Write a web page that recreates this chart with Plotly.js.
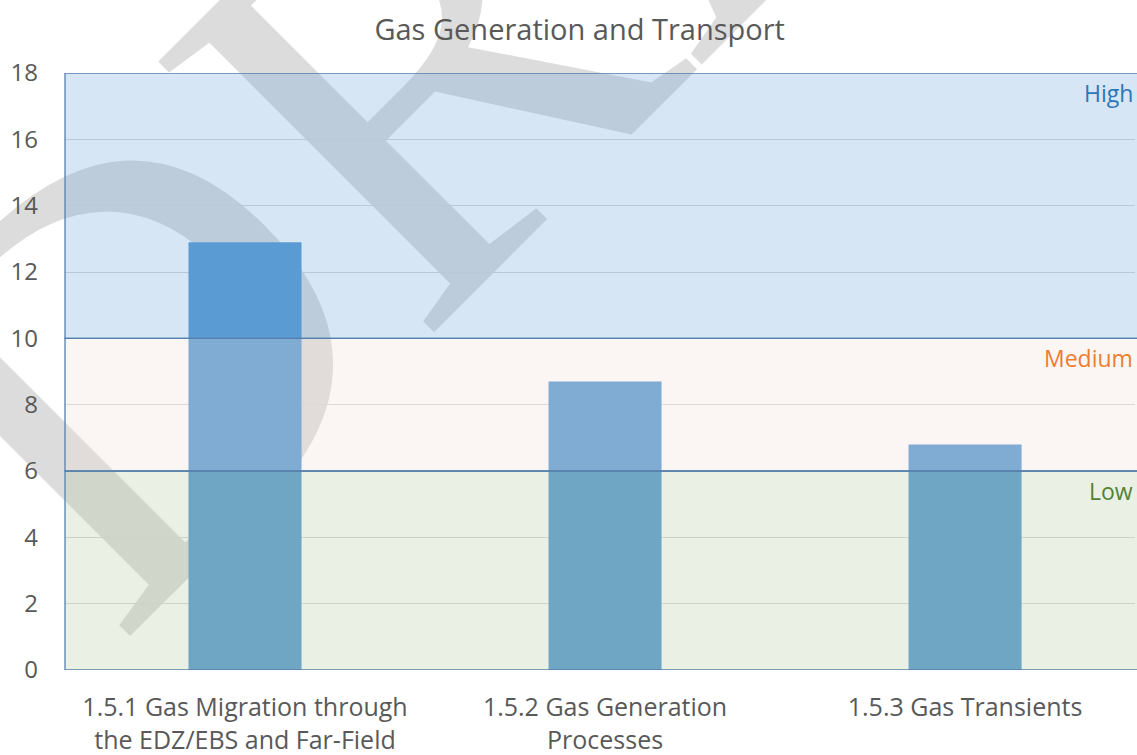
<!DOCTYPE html>
<html>
<head>
<meta charset="utf-8">
<script src="https://cdn.plot.ly/plotly-3.0.1.min.js"></script>
<style>
  html, body { margin: 0; padding: 0; background: #ffffff; }
  #chart { width: 1137px; height: 755px; }
</style>
</head>
<body>
<div id="chart"></div>
<script>
// ---- data ----
const categories = [
  '1.5.1 Gas Migration through<br>the EDZ/EBS and Far-Field',
  '1.5.2 Gas Generation<br>Processes',
  '1.5.3 Gas Transients'
];
const scores = [12.9, 8.7, 6.8];

const bandNames = ['Low', 'Medium', 'High'];
const bandLower = [0, 6, 10];
const bandUpper = [6, 10, 18];

const yTickValues = [0, 2, 4, 6, 8, 10, 12, 14, 16, 18];
const chartTitle = 'Gas Generation and Transport';
const watermarkText = 'DRAFT';

// ---- styles ----
const textGrey = '#595959';
const baseFont = 'Open Sans, Noto Sans, sans-serif';
const barColor = '#5b9bd5';
const bandFill = ['rgba(171,199,147,0.25)', 'rgba(239,219,207,0.25)', 'rgba(91,155,213,0.25)'];
const bandTextColor = ['#548235', '#ed7d31', '#2e75b6'];
const borderColor = '#5580ad';

const shapes = [];
// watermark (invisible box carrying a label, drawn beneath the bars)
shapes.push({
  type: 'rect', xref: 'paper', yref: 'paper', layer: 'below',
  x0: 0.4149, x1: 0.6149, y0: 1.3937, y1: 1.5937,
  line: { width: 0 }, fillcolor: 'rgba(0,0,0,0)',
  label: {
    text: watermarkText, textposition: 'middle center', textangle: -45,
    font: { family: 'Liberation Serif, DejaVu Serif, serif', size: 590, color: '#dcdcdc' }
  }
});
// qualitative bands, drawn over the bars with transparency
for (let i = 0; i < bandNames.length; i++) {
  shapes.push({
    type: 'rect', xref: 'paper', yref: 'y', layer: 'above',
    x0: 0, x1: 1.05, y0: bandLower[i], y1: bandUpper[i],
    fillcolor: bandFill[i],
    line: { color: borderColor, width: 1.3 }
  });
}

const annotations = bandNames.map((name, i) => ({
  xref: 'paper', yref: 'y', x: 1.0, y: bandUpper[i],
  xanchor: 'right', yanchor: 'top', yshift: -2,
  text: name, showarrow: false,
  font: { family: baseFont, size: 23, color: bandTextColor[i] }
}));

const trace = {
  type: 'bar',
  x: categories,
  y: scores,
  marker: { color: barColor, line: { width: 0 } },
  hoverinfo: 'x+y'
};

const layout = {
  width: 1137, height: 755,
  margin: { l: 65, r: 2, t: 73, b: 85 },
  paper_bgcolor: '#ffffff',
  plot_bgcolor: 'rgba(0,0,0,0)',
  title: {
    text: chartTitle,
    x: 0.481, xref: 'paper', xanchor: 'center',
    y: 0.960, yref: 'container', yanchor: 'middle',
    font: { family: baseFont, size: 29, color: textGrey }
  },
  showlegend: false,
  bargap: 0.686,
  xaxis: {
    type: 'category',
    range: [-0.5, 2.472],
    showgrid: false, zeroline: false, showline: false,
    ticks: '',
    ticklabelstandoff: 20,
    tickfont: { family: baseFont, size: 25, color: textGrey }
  },
  yaxis: {
    range: [0, 18],
    tickvals: yTickValues,
    showgrid: true, gridcolor: '#d9d9d9', gridwidth: 1,
    zeroline: false, showline: false,
    ticks: '',
    ticklabelstandoff: 26,
    tickfont: { family: baseFont, size: 24, color: textGrey }
  },
  shapes: shapes,
  annotations: annotations
};

Plotly.newPlot('chart', [trace], layout, { displayModeBar: false, staticPlot: true });
</script>
</body>
</html>
